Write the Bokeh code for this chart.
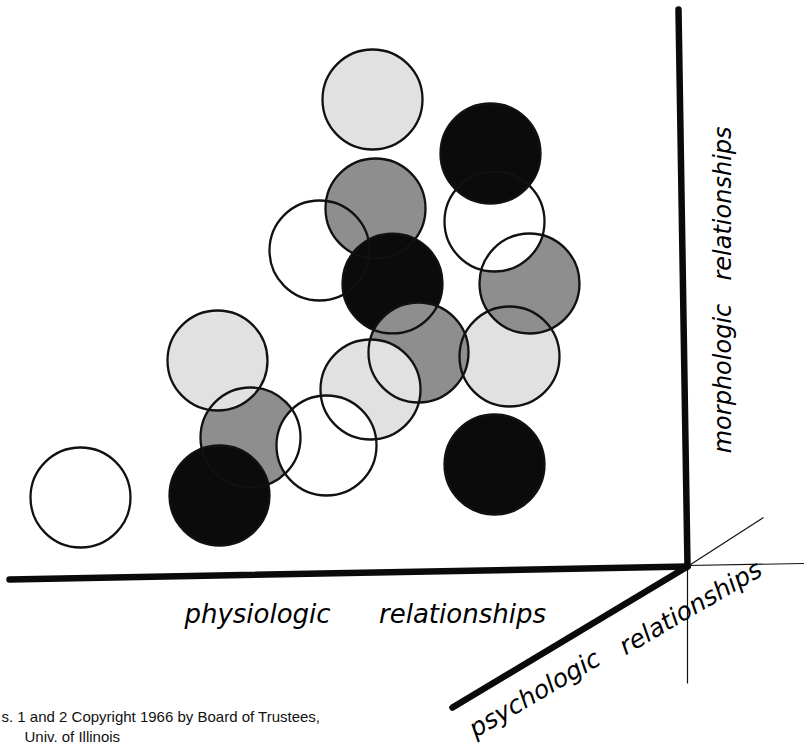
from bokeh.plotting import figure
from bokeh.models import Range1d, ColumnDataSource
from bokeh.core.properties import value
from bokeh.embed import file_html
from bokeh.resources import INLINE
import math

# ---- circle data (page pixel coordinates, drawn in stacking order) ----
circle_x = [250, 319, 375, 392, 509, 418, 370, 326, 529, 494, 490, 217, 219, 80, 372, 494]
circle_y = [437, 250, 208, 283, 356, 352, 389, 445, 283, 221, 153, 360, 495, 497, 99, 464]
circle_shade = ["dark", "white", "dark", "black", "light", "dark", "light", "white",
                "dark", "white", "black", "light", "black", "white", "light", "black"]
circle_r = 50

shade_colors = {"white": "#ffffff", "light": "#e1e1e1", "dark": "#8e8e8e", "black": "#0b0b0b"}

# ---- axes (thick) and guide lines (thin) ----
axis_x0 = [9, 678, 687]
axis_y0 = [579, 9, 566]
axis_x1 = [687, 687, 452]
axis_y1 = [566, 566, 707]

guide_x0 = [687, 687, 687]
guide_y0 = [566, 565, 566]
guide_x1 = [763, 804, 687]
guide_y1 = [517, 563, 683]

# ---- labels ----
h_words = ["physiologic", "relationships"]
h_x = [257, 462]
h_y = [613, 613]

v_words = ["morphologic", "relationships"]
v_x = [722, 722]
v_y = [378, 203]

d_words = ["psychologic", "relationships"]
d_x = [534, 690]
d_y = [693, 607]
d_angle = 0.53

note_lines = ["s.  1 and 2  Copyright 1966  by  Board of Trustees,", "Univ.  of  Illinois"]
note_x = [1, 24]
note_y = [716, 736]

W, H = 804, 746
p = figure(width=W, height=H, output_backend="svg", toolbar_location=None,
           x_range=Range1d(0, W), y_range=Range1d(H, 0),
           x_axis_type=None, y_axis_type=None, min_border=0,
           background_fill_color="white", border_fill_color="white")
p.outline_line_color = None
p.grid.visible = False

src = ColumnDataSource(dict(x=circle_x, y=circle_y,
                            fill=[shade_colors[s] for s in circle_shade]))
# fills first, in stacking order
p.circle(x="x", y="y", radius=circle_r, source=src, fill_color="fill",
         line_color=None)
# all outlines on top
p.circle(x="x", y="y", radius=circle_r, source=src, fill_color=None,
         line_color="#111111", line_width=2.3)

p.segment(x0=guide_x0, y0=guide_y0, x1=guide_x1, y1=guide_y1,
          line_color="#111111", line_width=1.2)
p.segment(x0=axis_x0, y0=axis_y0, x1=axis_x1, y1=axis_y1,
          line_color="#0a0a0a", line_width=6.5, line_cap="round")

font = value("DejaVu Sans")
p.text(x=h_x, y=h_y, text=h_words, text_font=font,
       text_font_style="italic", text_font_size="26px", text_color="#000000",
       text_align="center", text_baseline="alphabetic")
p.text(x=v_x, y=v_y, text=v_words, angle=math.pi / 2, text_font=font,
       text_font_style="italic", text_font_size="24px", text_color="#000000",
       text_align="center", text_baseline="alphabetic")
p.text(x=d_x, y=d_y, text=d_words, angle=d_angle, text_font=font,
       text_font_style="italic", text_font_size="25px", text_color="#000000",
       text_align="center", text_baseline="alphabetic")
p.text(x=note_x, y=note_y, text=note_lines, text_font=value("Liberation Sans"),
       text_font_size="15px", text_color="#111111",
       text_align="left", text_baseline="alphabetic")

open("out.html", "w").write(file_html(p, INLINE))
